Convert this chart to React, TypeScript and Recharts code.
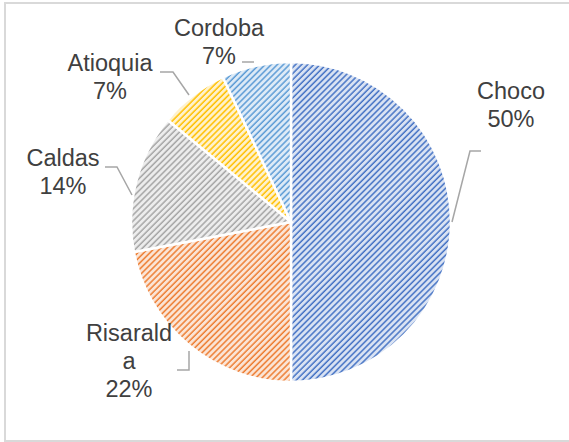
import React from "react";
import { PieChart, Pie, Cell } from "recharts";

// Departments and their share (%)
const departments = ["Choco", "Risaralda", "Caldas", "Atioquia", "Cordoba"];
const shares = [50, 22, 14, 7, 7];

// hatch colours: stripe / background
const stripeColors = ["#4472c4", "#ed7d31", "#a5a5a5", "#ffc000", "#5b9bd5"];
const backColors = ["#dae3f3", "#fbe5d6", "#ededed", "#fff2cc", "#deebf7"];

const chartData = departments.map((name, i) => ({ name, value: shares[i] }));

const CX = 291;
const CY = 222;
const R = 160;

// label placement relative to the pie centre: text centre + leader line points
const labelLayout = [
  { x: 220, y: -117, leader: [[161, 0], [179, -71], [190, -71]] },
  { x: -162, y: 139, leader: [[-102, 129], [-102, 148], [-114, 148]] },
  { x: -228, y: -50, leader: [[-159, -27], [-174, -55], [-186, -55]] },
  { x: -181, y: -145, leader: [[-102, -127], [-118, -150], [-131, -150]] },
  { x: -72, y: -180, leader: [[-37, -160], [-49, -160]] },
];

const wrapName = (name: string) => {
  if (name.length <= 8) return [name];
  return [name.slice(0, 8), name.slice(8)];
};

const renderLabel = (props: any) => {
  const { index, cx, cy, payload } = props;
  const lay = labelLayout[index];
  const lines = [...wrapName(payload.name), `${payload.value}%`];
  const lineH = 28;
  const top = cy + lay.y - ((lines.length - 1) * lineH) / 2;
  const pts = lay.leader.map((p) => `${cx + p[0]},${cy + p[1]}`).join(" ");
  return (
    <g key={`lbl-${index}`}>
      <polyline points={pts} fill="none" stroke="#a6a6a6" strokeWidth={1.5} />
      {lines.map((t, k) => (
        <text
          key={k}
          x={cx + lay.x}
          y={top + k * lineH}
          textAnchor="middle"
          dominantBaseline="central"
          fill="#404040"
          fontSize={23.5}
          fontFamily="'Liberation Sans', Arial, sans-serif"
        >
          {t}
        </text>
      ))}
    </g>
  );
};

export default function App() {
  return (
    <div
      style={{
        position: "absolute",
        left: 0,
        top: 0,
        width: 569,
        height: 442,
        background: "#fff",
        overflow: "hidden",
      }}
    >
      <div
        style={{
          position: "absolute",
          left: 4,
          top: 2,
          width: 600,
          height: 436,
          borderTop: "2px solid #d9d9d9",
          borderLeft: "2px solid #d9d9d9",
          borderBottom: "2px solid #d9d9d9",
        }}
      />
      <div style={{ position: "absolute", left: 0, top: 0 }}>
        <PieChart
          width={569}
          height={442}
          margin={{ top: 0, right: 0, bottom: 0, left: 0 }}
        >
          <defs>
            {stripeColors.map((c, i) => (
              <pattern
                key={i}
                id={`hatch-${i}`}
                width={4.3}
                height={4.3}
                patternUnits="userSpaceOnUse"
                patternTransform="rotate(45)"
              >
                <rect width={4.3} height={4.3} fill={backColors[i]} />
                <line
                  x1={1}
                  y1={0}
                  x2={1}
                  y2={4.3}
                  stroke={c}
                  strokeWidth={1.5}
                />
              </pattern>
            ))}
          </defs>
          <Pie
            data={chartData}
            dataKey="value"
            nameKey="name"
            cx={CX}
            cy={CY}
            outerRadius={R}
            startAngle={90}
            endAngle={-270}
            stroke="#ffffff"
            strokeWidth={2.5}
            label={renderLabel}
            labelLine={false}
            isAnimationActive={false}
          >
            {chartData.map((d, i) => (
              <Cell key={d.name} fill={`url(#hatch-${i})`} />
            ))}
          </Pie>
        </PieChart>
      </div>
    </div>
  );
}
